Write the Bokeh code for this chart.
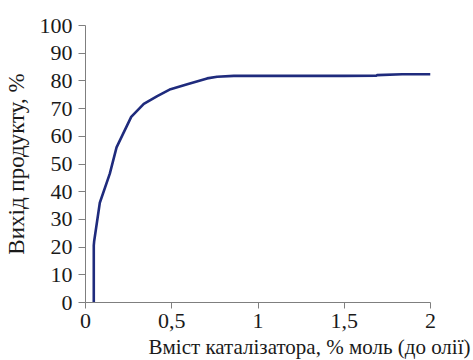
from bokeh.plotting import figure
from bokeh.models import Range1d, FixedTicker, Title
from bokeh.embed import file_html
from bokeh.resources import INLINE

# Data
x_vals = [0.048, 0.048, 0.05, 0.083, 0.141, 0.18, 0.265, 0.338, 0.416, 0.493,
          0.59, 0.705, 0.763, 0.86, 1.0, 1.5, 1.687, 1.69, 1.836, 2.0]
y_vals = [0, 20.6, 22, 36, 46.5, 56, 67, 71.7, 74.5, 77,
          78.8, 80.9, 81.5, 81.8, 81.8, 81.8, 81.9, 82.1, 82.4, 82.4]

x_ticks = [0, 0.5, 1, 1.5, 2]
x_tick_labels = ["0", "0,5", "1", "1,5", "2"]
y_ticks = [0, 10, 20, 30, 40, 50, 60, 70, 80, 90, 100]

x_title = "Вміст каталізатора, % моль (до олії)"
y_title = "Вихід продукту, %"

FONT = "'Liberation Serif', 'Times New Roman', serif"
TXT = "#1a1a1a"

p = figure(width=473, height=360, output_backend="svg", toolbar_location=None,
           x_range=Range1d(0, 2), y_range=Range1d(0, 100),
           min_border_left=85, min_border_right=43, min_border_top=25, min_border_bottom=58)
p.frame_width = 345
p.frame_height = 277
p.outline_line_color = None
p.grid.grid_line_color = None
p.background_fill_color = "white"
p.border_fill_color = "white"

p.line(x_vals, y_vals, line_color="#1f2b7d", line_width=2.6)

xa = p.xaxis[0]
xa.ticker = FixedTicker(ticks=x_ticks)
xa.major_label_overrides = {t: l for t, l in zip(x_ticks, x_tick_labels)}
xa.major_tick_out = 6
xa.major_tick_in = 0
xa.minor_tick_line_color = None
xa.axis_line_color = "#7f7f7f"
xa.major_tick_line_color = "#7f7f7f"
xa.major_label_text_font = FONT
xa.major_label_text_font_size = "22px"
xa.major_label_text_color = TXT
xa.major_label_standoff = 5

ya = p.yaxis[0]
ya.ticker = FixedTicker(ticks=y_ticks)
ya.major_tick_out = 7
ya.major_tick_in = 0
ya.minor_tick_line_color = None
ya.axis_line_color = "#7f7f7f"
ya.major_tick_line_color = "#7f7f7f"
ya.major_label_text_font = FONT
ya.major_label_text_font_size = "22px"
ya.major_label_text_color = TXT
ya.major_label_standoff = 6
ya.axis_label = y_title
ya.axis_label_text_font = FONT
ya.axis_label_text_font_size = "23px"
ya.axis_label_text_font_style = "normal"
ya.axis_label_text_color = TXT
ya.axis_label_standoff = 8

xt = Title(text=x_title, align="right", offset=-40, text_font=FONT,
           text_font_size="21px", text_font_style="normal", text_color=TXT, standoff=4)
p.add_layout(xt, "below")

open("out.html", "w").write(file_html(p, INLINE))
